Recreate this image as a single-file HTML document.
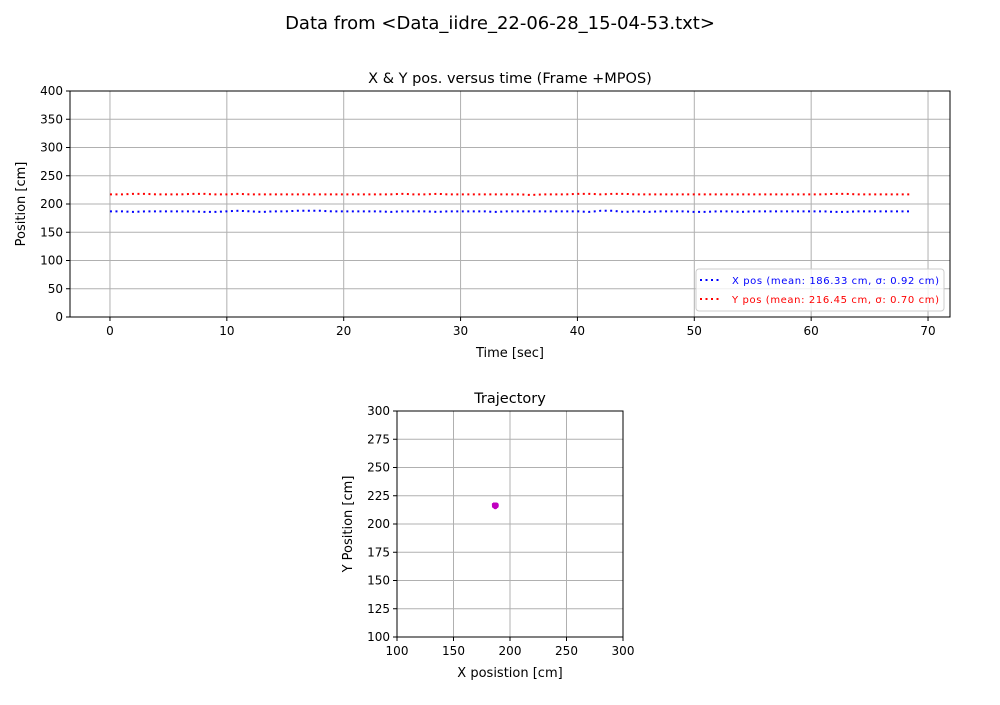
<!DOCTYPE html>
<html><head><meta charset="utf-8"><style>
body{margin:0;background:#fff;}
svg{font-family:"DejaVu Sans","Liberation Sans",sans-serif;}
</style></head><body>
<svg id="c" width="1000" height="700" viewBox="0 0 1000 700"></svg>
<script>
const times=[0,1,2,3,4,5,6,7,8,9,10,11,12,13,14,15,16,17,18,19,20,21,22,23,24,25,26,27,28,29,30,31,32,33,34,35,36,37,38,39,40,41,42,43,44,45,46,47,48,49,50,51,52,53,54,55,56,57,58,59,60,61,62,63,64,65,66,67,68.4];
const xPos=[187,187,186,187,187,187,187,187,186,186,187,188,187,186,187,187,188,188,188,187,187,187,187,187,186,187,187,187,186,187,187,187,187,186,187,187,187,187,187,187,187,186,188,188,186,187,186,187,187,187,186,186,187,187,186,187,187,187,187,187,187,187,186,186,187,187,187,187,187];
const yPos=[217,217,218,218,217,217,217,218,218,217,217,218,217,217,217,217,217,217,217,217,217,217,217,217,217,218,217,217,218,217,217,217,217,217,217,217,216,217,217,217,218,218,217,218,218,217,217,217,217,217,217,217,217,217,217,217,217,217,217,217,217,217,218,218,217,217,217,217,217];
const topXTicks=[0,10,20,30,40,50,60,70];
const topYTicks=[0,50,100,150,200,250,300,350,400];
const trajTicks=[100,125,150,175,200,225,250,275,300];
const trajXTicks=[100,150,200,250,300];
const NS="http://www.w3.org/2000/svg";
const svg=document.getElementById('c');
function el(tag,attrs,parent){const e=document.createElementNS(NS,tag);for(const k in attrs)e.setAttribute(k,attrs[k]);(parent||svg).appendChild(e);return e;}
function txt(s,attrs,parent){const e=el('text',attrs,parent);e.textContent=s;return e;}
const T={x0:70,x1:950,y0:317,y1:91,xmin:-3.42,xmax:71.88,ymin:0,ymax:400};
const tx=v=>T.x0+(v-T.xmin)/(T.xmax-T.xmin)*(T.x1-T.x0);
const ty=v=>T.y0-(v-T.ymin)/(T.ymax-T.ymin)*(T.y0-T.y1);
const t=txt('Data from <Data_iidre_22-06-28_15-04-53.txt>',{x:500,y:29,'text-anchor':'middle','font-size':18});

const g1=el('g',{});
txt('X & Y pos. versus time (Frame +MPOS)',{x:510,y:83,'text-anchor':'middle','font-size':14.5},g1);
topXTicks.forEach(v=>{const X=tx(v);el('line',{x1:X,x2:X,y1:T.y1,y2:T.y0,stroke:'#b0b0b0','stroke-width':1},g1);el('line',{x1:X,x2:X,y1:T.y0,y2:T.y0+4,stroke:'#000'},g1);const l=txt(v,{x:X,y:T.y0+18,'text-anchor':'middle','font-size':12},g1);});
topYTicks.forEach(v=>{const Y=ty(v);el('line',{x1:T.x0,x2:T.x1,y1:Y,y2:Y,stroke:'#b0b0b0','stroke-width':1},g1);el('line',{x1:T.x0-4,x2:T.x0,y1:Y,y2:Y,stroke:'#000'},g1);const l=txt(v,{x:T.x0-7,y:Y+4,'text-anchor':'end','font-size':12},g1);});
const px=el('polyline',{points:times.map((d,i)=>tx(d)+','+ty(xPos[i])).join(' '),fill:'none',stroke:'#0000ff','stroke-width':2,'stroke-dasharray':'2 3.5'},g1);

const py=el('polyline',{points:times.map((d,i)=>tx(d)+','+ty(yPos[i])).join(' '),fill:'none',stroke:'#ff0000','stroke-width':2,'stroke-dasharray':'2 3.5'},g1);

el('rect',{x:T.x0,y:T.y1,width:T.x1-T.x0,height:T.y0-T.y1,fill:'none',stroke:'#000'},g1);
txt('Time [sec]',{x:510,y:357,'text-anchor':'middle','font-size':13},g1);
txt('Position [cm]',{x:0,y:0,'text-anchor':'middle','font-size':13,transform:'translate(25,204) rotate(-90)'},g1);
const lg=el('g',{},g1);
el('rect',{x:696,y:269,width:248,height:42,rx:3,fill:'#fff','fill-opacity':0.8,stroke:'#ccc'},lg);
el('line',{x1:700,x2:720,y1:280,y2:280,stroke:'#00f','stroke-width':2,'stroke-dasharray':'2 3.5'},lg);
txt('X pos (mean: 186.33 cm, σ: 0.92 cm)',{x:732,y:284,'font-size':10,fill:'#0000ff',textLength:207},lg);
el('line',{x1:700,x2:720,y1:299,y2:299,stroke:'#f00','stroke-width':2,'stroke-dasharray':'2 3.5'},lg);
txt('Y pos (mean: 216.45 cm, σ: 0.70 cm)',{x:732,y:303,'font-size':10,fill:'#ff0000',textLength:207},lg);
const B={x0:397,x1:623,y0:637,y1:411,min:100,max:300};
const bx=v=>B.x0+(v-B.min)/(B.max-B.min)*(B.x1-B.x0);
const by=v=>B.y0-(v-B.min)/(B.max-B.min)*(B.y0-B.y1);
const g2=el('g',{});
txt('Trajectory',{x:510,y:403,'text-anchor':'middle','font-size':14.5},g2);
trajXTicks.forEach(v=>{const X=bx(v);el('line',{x1:X,x2:X,y1:B.y1,y2:B.y0,stroke:'#b0b0b0'},g2);el('line',{x1:X,x2:X,y1:B.y0,y2:B.y0+4,stroke:'#000'},g2);txt(v,{x:X,y:B.y0+18,'text-anchor':'middle','font-size':12},g2);});
trajTicks.forEach(v=>{const Y=by(v);el('line',{x1:B.x0,x2:B.x1,y1:Y,y2:Y,stroke:'#b0b0b0'},g2);el('line',{x1:B.x0-4,x2:B.x0,y1:Y,y2:Y,stroke:'#000'},g2);txt(v,{x:B.x0-7,y:Y+4,'text-anchor':'end','font-size':12},g2);});
const tp=el('polyline',{points:xPos.map((v,i)=>bx(v)+','+by(yPos[i]-1)).join(' '),fill:'none',stroke:'#c000c0','stroke-width':2},g2);

xPos.forEach((v,i)=>{const c=el('circle',{cx:bx(v),cy:by(yPos[i]-1),r:2.2,fill:'#c000c0'},g2);});
el('rect',{x:B.x0,y:B.y1,width:B.x1-B.x0,height:B.y0-B.y1,fill:'none',stroke:'#000'},g2);
txt('X posistion [cm]',{x:510,y:677,'text-anchor':'middle','font-size':13},g2);
txt('Y Position [cm]',{x:0,y:0,'text-anchor':'middle','font-size':13,transform:'translate(352,524) rotate(-90)'},g2);
</script>
</body></html>
